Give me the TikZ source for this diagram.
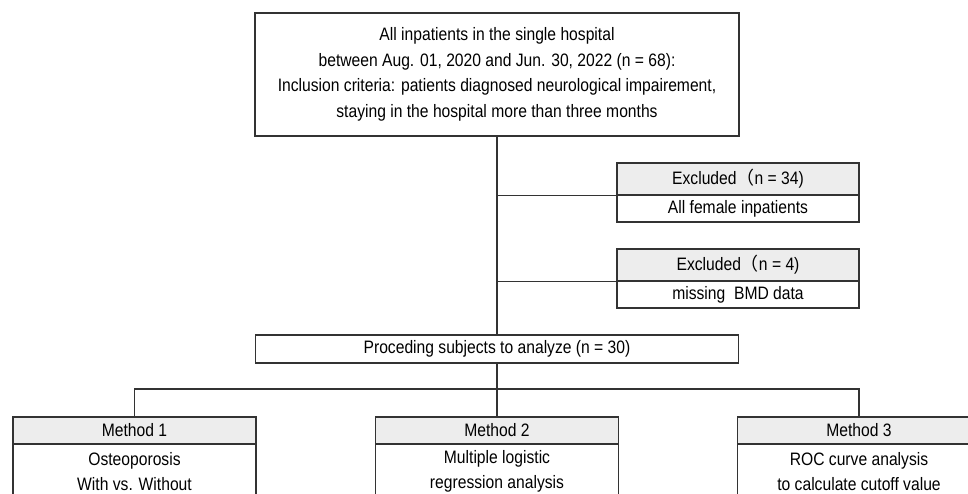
\documentclass[tikz,border=0pt]{standalone}
\usepackage{fontspec}
\setmainfont{Liberation Sans}[FakeStretch=0.87]
\newfontfamily\cjk{Noto Sans CJK JP}
\usetikzlibrary{positioning}
\begin{document}
\begin{tikzpicture}[x=1pt,y=-1pt]
\tikzstyle{box} = [draw=black!80, line width=1.3pt, align=center, inner sep=0pt, text=black, font=\fontsize{18}{25.5}\selectfont];
\tikzstyle{head} = [box, fill=black!7, minimum width=242pt, minimum height=32pt];
\tikzstyle{body} = [box, fill=white, minimum width=242pt, minimum height=27pt];
\tikzstyle{link} = [draw=black!80, line width=1.3pt];
\useasboundingbox (0,0) rectangle (968,493);
\clip (0,0) rectangle (968,493);
% population
\node[box, minimum width=484pt, minimum height=123pt] (all) at (497,74.5) {All inpatients in the single hospital\\between Aug. 01, 2020 and Jun. 30, 2022 (n = 68):\\Inclusion criteria: patients diagnosed neurological impairement,\\staying in the hospital more than three months};
% exclusions
\node[head] (ex1) at (738,179) {Excluded{\cjk （}n = 34)};
\node[body] (ex1b) at (738,208.5) {All female inpatients};
\node[head] (ex2) at (738,265) {Excluded{\cjk （}n = 4)};
\node[body] (ex2b) at (738,294.5) {missing\ \ BMD data};
% analysed
\node[box, minimum width=483pt, minimum height=28pt] (proc) at (497,349) {Proceding subjects to analyze (n = 30)};
% methods
\node[head, minimum width=243pt, minimum height=27pt] (m1) at (134.5,430.5) {Method 1};
\node[body, minimum width=243pt, minimum height=55pt] (m1b) at (134.5,471.5) {Osteoporosis\\With vs. Without};
\node[head, minimum width=243pt, minimum height=27pt] (m2) at (497,430.5) {Method 2};
\node[body, minimum width=243pt, minimum height=55pt] (m2b) at (497,471.5) {Multiple logistic\\regression analysis};
\node[head, minimum width=243pt, minimum height=27pt] (m3) at (859,430.5) {Method 3};
\node[body, minimum width=243pt, minimum height=55pt] (m3b) at (859,471.5) {ROC curve analysis\\to calculate cutoff value};
\coordinate (fork) at (497,389);
\draw[link] (all.south) -- (all.south |- proc.north);
\draw[link] (all.south |- ex1.south west) -- (ex1.south west);
\draw[link] (all.south |- ex2.south west) -- (ex2.south west);
\draw[link] (proc.south) -- (m2.north);
\draw[link] (m1.north) |- (fork) -| (m3.north);
\end{tikzpicture}
\end{document}
